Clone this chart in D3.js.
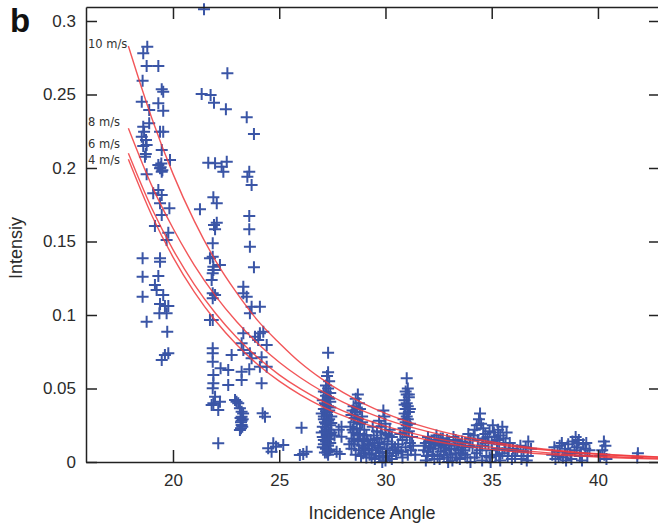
<!DOCTYPE html>
<html>
<head>
<meta charset="utf-8">
<script src="https://cdn.jsdelivr.net/npm/d3@7"></script>
<style>
  body { margin: 0; background: #fff; }
  svg { display: block; font-family: "Liberation Sans", Arial, sans-serif; }
</style>
</head>
<body>
<div id="chart"></div>
<script>
// model curves for each wind speed
const curveAngles = [17.9, 19, 20, 21, 22, 23, 24, 25, 26, 27, 28, 29, 30, 32, 34, 36, 38, 40, 43];
const wind10 = [0.283, 0.234, 0.196, 0.164, 0.137, 0.115, 0.096, 0.081, 0.0675, 0.0565, 0.0473, 0.0396, 0.0331, 0.0232, 0.0163, 0.0114, 0.008, 0.0056, 0.0033];
const wind8  = [0.227, 0.188, 0.159, 0.134, 0.113, 0.0954, 0.0805, 0.0679, 0.0573, 0.0483, 0.0408, 0.0344, 0.029, 0.0207, 0.0147, 0.0105, 0.0075, 0.0053, 0.0032];
const wind6  = [0.210, 0.1726, 0.1445, 0.1209, 0.1012, 0.0847, 0.0709, 0.0593, 0.0497, 0.0416, 0.0348, 0.0291, 0.0244, 0.0171, 0.012, 0.0084, 0.0059, 0.0041, 0.0024];
const wind4  = [0.206, 0.1679, 0.1394, 0.1157, 0.0961, 0.0798, 0.0662, 0.055, 0.0457, 0.0379, 0.0315, 0.0261, 0.0217, 0.015, 0.0103, 0.0071, 0.0049, 0.0034, 0.0019];
const windLabels = ["10 m/s", "8 m/s", "6 m/s", "4 m/s"];

const xTicks = [20, 25, 30, 35, 40];
const yTicks = [0, 0.05, 0.1, 0.15, 0.2, 0.25, 0.3];

// observations [incidence angle, intensity], grouped by angle cluster
const obs19 = [[18.79,0.2825],[18.60,0.278],[18.76,0.2694],[19.31,0.2694],[18.57,0.2594],[19.47,0.2535],[19.54,0.2519],
  [18.53,0.2451],[19.31,0.244],[18.88,0.2395],[19.54,0.239],[18.88,0.2304],[18.60,0.2281],[18.64,0.2247],[18.53,0.2213],
  [18.73,0.219],[19.39,0.2247],[19.54,0.2247],[18.60,0.215],[18.76,0.2156],[18.68,0.2077],[18.72,0.2095],[19.47,0.2122],
  [19.86,0.2054],[19.31,0.202],[19.39,0.1998],[19.47,0.1975],[19.42,0.2005],[19.5,0.1985],[19.45,0.203],[18.76,0.1957],
  [19.07,0.1828],[19.31,0.185],[19.47,0.1816],[19.39,0.176],[19.83,0.1726],[19.47,0.168],[19.15,0.1605],[19.78,0.156],
  [19.70,0.151],[18.57,0.1386],[19.39,0.1386],[19.39,0.1363],[18.57,0.1261],[19.31,0.1265],[19.15,0.1204],[19.23,0.117],
  [18.57,0.1124],[19.54,0.1136],[19.39,0.1075],[19.62,0.1061],[19.78,0.1061],[19.36,0.1012],[19.70,0.1012],[18.76,0.0954],
  [19.73,0.0886],[19.62,0.0728],[19.78,0.0739],[19.47,0.0694]];

const obs22 = [[21.46,0.308],[22.56,0.2644],[21.35,0.2503],[21.77,0.2497],[21.93,0.2444],[22.49,0.2399],[23.47,0.2345],
  [23.81,0.2231],[21.66,0.2036],[21.98,0.2032],[22.29,0.2009],[22.53,0.2043],[22.37,0.1975],[23.59,0.1975],[23.50,0.1941],
  [23.70,0.1884],[21.90,0.1801],[22.06,0.176],[21.27,0.1719],[23.59,0.1673],[23.59,0.1583],[21.93,0.1612],[21.98,0.1583],
  [22.06,0.1628],[21.87,0.1488],[23.62,0.1465],[21.74,0.1386],[21.87,0.1397],[22.21,0.134],[21.90,0.1329],[21.90,0.1306],
  [23.81,0.1324],[21.87,0.1284],[21.82,0.1238],[23.31,0.1193],[23.31,0.1148],[23.47,0.1124],[21.87,0.1148],[21.98,0.1136],
  [21.87,0.1114],[23.70,0.1056],[24.09,0.1056],[23.62,0.1012],[21.87,0.0966],[21.74,0.0966],[23.31,0.0876],[24.09,0.0876],
  [24.25,0.0886],[23.86,0.0852],[24.41,0.0796],[24.01,0.083],[23.23,0.0807],[23.31,0.0762],[21.87,0.0773],[21.87,0.0739],
  [21.87,0.0682],[22.76,0.0728],[23.62,0.0739],[23.70,0.0705],[24.17,0.0712],[24.41,0.0648],[24.09,0.0648],[23.59,0.0631],
  [22.60,0.0626],[22.24,0.0637],[23.23,0.0614],[23.23,0.0558],[21.90,0.0592],[21.90,0.0535],[21.87,0.0501],[21.98,0.0444],
  [22.21,0.041],[21.82,0.0388],[21.90,0.0399],[22.13,0.0354],[22.60,0.0524],[22.92,0.0422],[22.99,0.041],[23.07,0.0399],
  [23.15,0.0365],[23.23,0.0342],[23.3,0.033],[23.23,0.0308],[23.18,0.030],[23.28,0.029],[23.23,0.0281],[23.2,0.027],
  [23.23,0.0252],[23.26,0.024],[23.2,0.023],[23.15,0.0218],[24.17,0.0535],[24.22,0.0331],[24.33,0.0308],[22.13,0.0127],
  [24.48,0.0093],[24.72,0.0127],[24.85,0.0104],[24.64,0.007],[25.19,0.0116]];

const obs27 = [[26.05,0.0233],[25.97,0.0048],[26.29,0.007],[26.13,0.0054],[27.93,0.024],[27.93,0.0172],[27.7,0.007],
  [27.85,0.0054],[27.6,0.018],[27.8,0.022],
  [27.3,0.0744],[27.3,0.061],[27.25,0.0585],[27.35,0.055],[27.2,0.052],[27.3,0.05],[27.1,0.048],[27.4,0.047],[27.2,0.045],
  [27.3,0.044],[27.05,0.042],[27.4,0.041],[27.2,0.039],[27.3,0.038],[27.1,0.036],[27.35,0.035],[27.0,0.033],[27.25,0.032],
  [27.45,0.031],[27.1,0.029],[27.3,0.028],[27.2,0.026],[27.4,0.025],[27.05,0.024],[27.3,0.022],[27.15,0.021],[27.45,0.02],
  [27.25,0.018],[27.05,0.017],[27.35,0.016],[27.2,0.014],[27.4,0.013],[27.1,0.012],[27.3,0.011],[27.2,0.009],[27.35,0.008],
  [27.15,0.0065],[27.3,0.005],
  [27.2,0.0475],[27.35,0.043],[27.15,0.04],[27.4,0.037],[27.25,0.034],[27.1,0.031],[27.35,0.029],[27.2,0.0235],
  [27.4,0.019],[27.1,0.015],[27.3,0.0125],[27.05,0.01],[27.4,0.0085],[27.25,0.0065],[27.35,0.0195],[27.15,0.027],
  [27.45,0.0265],[27.0,0.02],[27.3,0.0155],[27.2,0.0345]];

const obs29 = [[28.7,0.046],[28.6,0.043],[28.75,0.04],[28.5,0.038],[28.8,0.036],[28.6,0.034],[28.4,0.032],[28.9,0.031],
  [28.7,0.029],[28.5,0.027],[28.8,0.026],[28.35,0.024],[28.65,0.023],[29.0,0.022],[28.5,0.02],[28.8,0.019],[29.1,0.018],
  [28.4,0.016],[28.7,0.015],[29.0,0.014],[29.3,0.015],[28.55,0.012],[28.9,0.011],[29.2,0.012],[29.5,0.013],[28.4,0.009],
  [28.75,0.008],[29.05,0.009],[29.35,0.008],[29.65,0.01],[28.6,0.005],[28.95,0.006],[29.25,0.005],[29.55,0.006],
  [29.85,0.007],[29.1,0.003],[29.5,0.002],[29.9,0.003],[30.2,0.004],
  [29.9,0.035],[29.95,0.031],[29.7,0.028],[30.0,0.026],[29.8,0.024],[30.2,0.022],[29.6,0.021],[30.0,0.019],[29.4,0.024],
  [30.3,0.017],[29.8,0.016],[30.1,0.014],[29.45,0.018],[30.3,0.012],[29.7,0.013],[30.05,0.009],[30.35,0.008],[30.5,0.006],
  [29.85,0.0],[30.0,0.001],
  [28.45,0.035],[28.65,0.037],[28.55,0.03],[28.9,0.027],[28.45,0.022],[28.7,0.018],[28.95,0.016],[29.15,0.015],
  [29.4,0.011],[29.75,0.009],[30.1,0.006],[28.5,0.014],[28.85,0.004],[29.35,0.003],[29.7,0.004],[30.3,0.002],
  [29.2,0.0085],[29.6,0.016],[29.95,0.012],[30.15,0.018],[29.8,0.02],[30.45,0.01],[29.0,0.01],[28.3,0.012]];

const obs31 = [[31.0,0.057],[31.05,0.05],[30.95,0.048],[31.0,0.046],[31.1,0.044],[30.9,0.042],[31.0,0.04],[31.05,0.038],
  [30.95,0.036],[31.1,0.034],[30.9,0.033],[31.0,0.031],[31.05,0.029],[30.95,0.027],[31.0,0.025],[30.85,0.023],[31.1,0.021],
  [30.7,0.019],[31.0,0.017],[30.8,0.015],[31.15,0.013],[30.6,0.012],[30.95,0.01],[31.2,0.008],[30.75,0.007],[31.05,0.005],
  [31.1,0.046],[30.9,0.039],[31.15,0.036],[30.85,0.029],[31.15,0.026],[30.9,0.02],[31.25,0.017],[30.6,0.008],
  [31.3,0.011],[30.8,0.003],[31.4,0.005]];

const obs33 = [[31.8,0.008],[31.9,0.013],[32.0,0.017],[32.1,0.01],[32.2,0.005],[32.3,0.015],[32.4,0.018],[32.5,0.011],
  [32.6,0.007],[32.7,0.016],[32.8,0.012],[32.9,0.003],[33.0,0.014],[33.1,0.009],[33.2,0.017],[33.3,0.006],[33.4,0.012],
  [33.5,0.002],[31.95,0.004],[32.25,0.009],[32.55,0.002],[32.85,0.008],[33.15,0.001],[33.45,0.008],[32.05,0.014],
  [32.65,0.013],[33.05,0.005],[32.35,0.012],[33.3,0.015],[32.75,0.005],[33.6,0.010],[31.85,0.011],
  [32.0,0.007],[32.15,0.013],[32.45,0.004],[32.6,0.016],[32.9,0.015],[33.0,0.009],[33.25,0.011],[33.55,0.006],
  [32.3,0.002],[32.75,0.01],[33.35,0.003],[31.9,0.001],[32.95,0.0],[33.6,0.014],[32.5,0.015]];

const obs35 = [[34.45,0.033],[34.4,0.029],[34.5,0.026],[35.05,0.025],[35.5,0.024],[35.3,0.022],[34.9,0.021],[34.2,0.022],
  [33.9,0.019],[35.7,0.02],[34.7,0.019],[35.15,0.017],[35.55,0.016],[34.0,0.016],[34.35,0.015],[33.75,0.013],[35.85,0.013],
  [34.85,0.013],[35.35,0.012],[34.55,0.011],[34.1,0.01],[33.65,0.008],[35.0,0.008],[35.6,0.009],[34.3,0.006],[34.75,0.004],
  [35.2,0.005],[33.85,0.003],[35.75,0.004],[34.55,0.001],[35.4,0.001],[34.0,0.0],[34.95,0.0],
  [34.3,0.025],[34.6,0.023],[34.8,0.017],[35.1,0.02],[35.4,0.018],[35.65,0.013],[34.15,0.018],[33.95,0.011],
  [34.45,0.008],[34.7,0.013],[35.25,0.009],[35.5,0.006],[35.8,0.008],[34.2,0.003],[34.9,0.003],[35.35,0.004],
  [33.75,0.005],[35.95,0.002],[34.6,0.016],[35.0,0.014],[35.25,0.015],
  [36.1,0.004],[36.2,0.008],[36.35,0.011],[36.5,0.007],[36.72,0.014],[36.6,0.01],[36.7,0.004],[36.85,0.009],[36.4,0.002],
  [36.0,0.009],[36.65,0.001]];

const obs39 = [[37.85,0.005],[37.95,0.01],[38.1,0.007],[38.2,0.011],[38.35,0.003],[38.45,0.009],[38.6,0.012],[38.7,0.006],
  [38.8,0.014],[38.95,0.017],[39.0,0.01],[39.1,0.015],[39.2,0.006],[39.3,0.012],[39.4,0.009],[39.5,0.004],[39.6,0.008],
  [38.5,0.001],[39.25,0.001],[38.0,0.002],
  [38.3,0.013],[38.55,0.005],[38.9,0.008],[39.15,0.004],[39.45,0.013],[38.75,0.002],[39.05,0.013],[38.15,0.004],
  [40.28,0.014],[40.35,0.011],[40.2,0.008],[40.3,0.005],[40.4,0.002],[40.1,0.004],
  [41.88,0.006],[41.85,0.003]];

const observations = [].concat(obs19, obs22, obs27, obs29, obs31, obs33, obs35, obs39);

const W = 658, H = 526;
const mLeft = 86, mRight = 660, mTop = 7, mBottom = 462;

const svg = d3.select("#chart").append("svg")
    .attr("width", W)
    .attr("height", H);

const x = d3.scaleLinear().domain([15.906, 42.92]).range([mLeft, mRight]);
const y = d3.scaleLinear().domain([0, 0.30952]).range([mBottom, mTop]);

const blue = "#3a55a6";
const red = "#f0383c";

// scatter of "+" marks
const plusPath = "M-6,0H6M0,-6V6";
svg.append("g")
  .selectAll("path")
  .data(observations)
  .join("path")
    .attr("d", plusPath)
    .attr("transform", d => `translate(${x(d[0])},${y(d[1])})`)
    .attr("fill", "none")
    .attr("stroke", blue)
    .attr("stroke-width", 2);

// wind speed curves
const series = [wind10, wind8, wind6, wind4];
const line = d3.line()
    .x((d, i) => x(curveAngles[i]))
    .y(d => y(d))
    .curve(d3.curveMonotoneX);

svg.append("g")
  .selectAll("path")
  .data(series)
  .join("path")
    .attr("d", d => line(d))
    .attr("fill", "none")
    .attr("stroke", red)
    .attr("stroke-opacity", 0.85)
    .attr("stroke-width", 1.4);

const labelDy = [2, -2, -5, 5];
svg.append("g")
  .selectAll("text")
  .data(windLabels)
  .join("text")
    .attr("x", 88)
    .attr("y", (d, i) => y(series[i][0]) + labelDy[i])
    .style("font-family", "'DejaVu Sans', sans-serif")
    .style("font-size", "11.5px")
    .attr("fill", "#333")
    .text(d => d);

// axes with inward ticks on all four sides
const fmt = d => d === 0 ? "0" : String(d);

const xAxis = svg.append("g")
    .attr("transform", `translate(0,${mBottom})`)
    .call(d3.axisBottom(x).tickValues(xTicks).tickSize(-12).tickPadding(12).tickSizeOuter(0));

const yAxis = svg.append("g")
    .attr("transform", `translate(${mLeft},0)`)
    .call(d3.axisLeft(y).tickValues(yTicks).tickFormat(fmt).tickSize(-11).tickPadding(10).tickSizeOuter(0));

const topAxis = svg.append("g")
    .attr("transform", `translate(0,${mTop})`)
    .call(d3.axisTop(x).tickValues(xTicks).tickFormat("").tickSize(-12).tickSizeOuter(0));

const rightAxis = svg.append("g")
    .attr("transform", `translate(${mRight},0)`)
    .call(d3.axisRight(y).tickValues(yTicks).tickFormat("").tickSize(-11).tickSizeOuter(0));

[xAxis, yAxis, topAxis, rightAxis].forEach(g => {
  g.selectAll("path.domain").attr("stroke", "#222").attr("stroke-width", 1.5);
  g.selectAll(".tick line").attr("stroke", "#222").attr("stroke-width", 1.5);
  g.selectAll(".tick text")
    .attr("fill", "#2b2b2b")
    .style("font-family", "'Liberation Sans', Arial, sans-serif")
    .style("font-size", "17px");
});

// axis titles
svg.append("text")
    .attr("x", 372)
    .attr("y", 519)
    .attr("text-anchor", "middle")
    .attr("fill", "#2b2b2b")
    .style("font-size", "18px")
    .text("Incidence Angle");

svg.append("text")
    .attr("transform", "translate(22,248) rotate(-90)")
    .attr("text-anchor", "middle")
    .attr("fill", "#2b2b2b")
    .style("font-size", "18px")
    .text("Intensiy");

// panel letter
svg.append("text")
    .attr("x", 10)
    .attr("y", 32)
    .attr("fill", "#111")
    .style("font-size", "33px")
    .style("font-weight", "bold")
    .text("b");
</script>
</body>
</html>
